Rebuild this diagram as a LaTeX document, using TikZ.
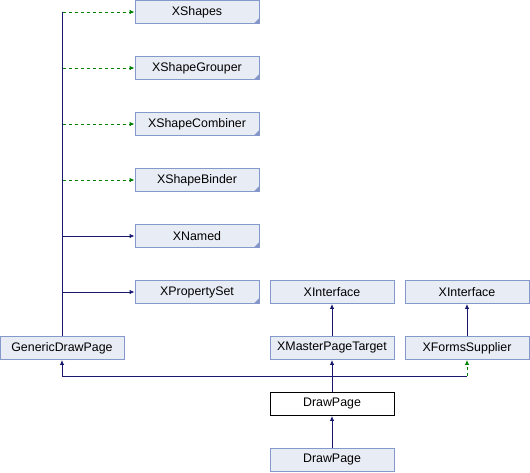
\documentclass[tikz,border=0pt]{standalone}
\usepackage{fontspec}
\setmainfont{Liberation Sans}
\usetikzlibrary{arrows.meta}
\usetikzlibrary{calc}
\definecolor{boxfill}{HTML}{E8ECF5}
\definecolor{boxline}{HTML}{8498CA}
\definecolor{edgeblue}{HTML}{191970}
\definecolor{edgegreen}{HTML}{008000}

\begin{document}
\begin{tikzpicture}[x=1pt, y=-1pt,
        cls/.style={draw=boxline, fill=boxfill, line width=0.9pt, minimum width=124pt, minimum height=23pt, inner sep=0pt, font=\fontsize{12.4}{14}\selectfont},
        self/.style={cls, draw=black, fill=white},
        realize/.style={edgeblue, line width=0.9pt},
        uses/.style={edgegreen, line width=0.9pt, dash pattern=on 3pt off 3pt},
        tip/.style={-{Latex[length=5pt, width=4.5pt]}}
    ]
        \useasboundingbox (0,0) rectangle (530,472);

        % interfaces of the generic page
        \node[cls] (xshapes) at (197,12) {XShapes};
        \node[cls] (xgrouper) at (197,68) {XShapeGrouper};
        \node[cls] (xcombiner) at (197,124) {XShapeCombiner};
        \node[cls] (xbinder) at (197,180) {XShapeBinder};
        \node[cls] (xnamed) at (197,236) {XNamed};
        \node[cls] (xpropset) at (197,292) {XPropertySet};
        \foreach \n in {xshapes, xgrouper, xcombiner, xbinder, xnamed, xpropset}
            \fill[boxline] (\n.south east) -- ++(0,-6) -- ++(-6,6) -- cycle;

        % right side
        \node[cls] (xifaceA) at (332,292) {XInterface};
        \node[cls] (xifaceB) at (467,292) {XInterface};
        \node[cls] (xmaster) at (332,348) {XMasterPageTarget};
        \node[cls] (xforms) at (467,348) {XFormsSupplier};
        \node[cls] (generic) at (62,348) {GenericDrawPage};
        \node[self] (drawpage) at (332,404) {DrawPage};
        \node[cls] (subpage) at (332,460) {DrawPage};

        % trunk from the generic page
        \coordinate (tShapes) at (generic.north |- xshapes.west);
        \coordinate (tGrouper) at (generic.north |- xgrouper.west);
        \coordinate (tCombiner) at (generic.north |- xcombiner.west);
        \coordinate (tBinder) at (generic.north |- xbinder.west);
        \draw[realize] (generic.north) -- (tShapes);
        \draw[uses, tip] ($(tShapes)+(1,0)$) -- (xshapes.west);
        \draw[uses, tip] ($(tGrouper)+(1,0)$) -- (xgrouper.west);
        \draw[uses, tip] ($(tCombiner)+(1,0)$) -- (xcombiner.west);
        \draw[uses, tip] ($(tBinder)+(1,0)$) -- (xbinder.west);
        \draw[realize, tip] (generic.north) |- (xnamed.west);
        \draw[realize, tip] (generic.north) |- (xpropset.west);

        % upper right
        \draw[realize, tip] (xmaster) -- (xifaceA);
        \draw[realize, tip] (xforms) -- (xifaceB);

        % DrawPage
        \coordinate (join) at ($(drawpage.north)+(0,-16)$);
        \coordinate (joinL) at (generic.south |- join);
        \coordinate (joinR) at (xforms.south |- join);
        \draw[realize, tip] (drawpage) -- (xmaster);
        \draw[realize, tip] (join) -- (joinL) -- (generic.south);
        \draw[realize] (join) -- (joinR);
        \draw[uses, tip] (joinR) -- (xforms.south);
        \draw[realize, tip] (subpage) -- (drawpage);
    \end{tikzpicture}
\end{document}
